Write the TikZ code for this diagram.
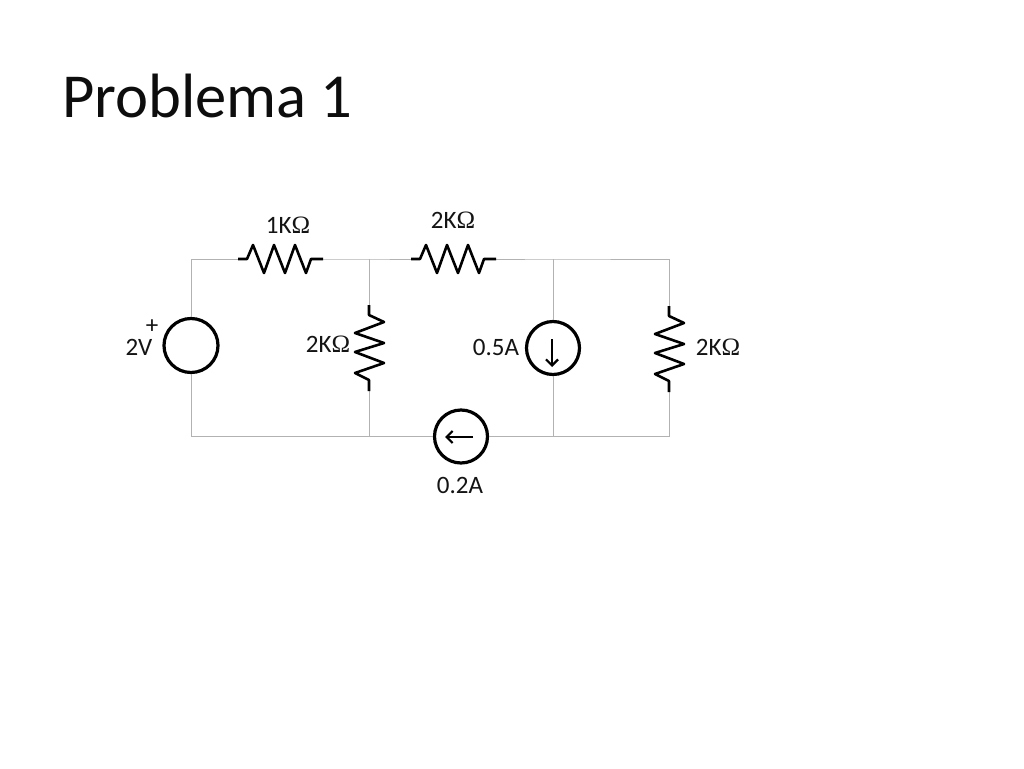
\documentclass[tikz,border=0pt]{standalone}
\usepackage{fontspec}
\setmainfont{Carlito}
\newfontfamily\omfont{Liberation Serif}
\usetikzlibrary{arrows.meta}
\newcommand{\Om}{{\omfont Ω}}
\tikzset{
  wire/.style={draw=black!30,line width=1pt},
  res/.style={draw=black,line width=2.6pt,line join=round},
  src/.style={circle,draw=black,line width=3.2pt,fill=white,minimum size=54pt,inner sep=0pt},
  lab/.style={font=\fontsize{25}{25}\selectfont,text=black!92,inner sep=0pt},
  arr/.style={draw=black,line width=2.2pt,-{Straight Barb[length=6pt,width=12pt,line width=2.2pt]}}
}
\begin{document}
\begin{tikzpicture}[x=1pt,y=-1pt]
\useasboundingbox (0,0) rectangle (1024,768);
\fill[white] (0,0) rectangle (1024,768);
\node[anchor=base west,inner sep=0pt,font=\fontsize{62.6}{62.6}\selectfont,text=black!95] (title) at (62,117) {Problema 1};
% corners and junctions
\coordinate (tl) at (191,259);
\coordinate (tm) at (369,259);
\coordinate (tj) at (553,259);
\coordinate (tr) at (669,259);
\coordinate (bl) at (191,436.5);
\coordinate (bm) at (369,436.5);
\coordinate (bj) at (553,436.5);
\coordinate (br) at (669,436.5);
% resistor ends
\coordinate (r1a) at (238,259);
\coordinate (r1b) at (323,259);
\coordinate (r2a) at (411,259);
\coordinate (r2b) at (496,259);
\coordinate (r3a) at (369,305);
\coordinate (r3b) at (369,391);
\coordinate (r4a) at (669,306);
\coordinate (r4b) at (669,392);
% sources
\node[src] (vs) at (191,345.5) {};
\node[src,minimum size=53pt] (is) at (553,348) {};
\node[src,minimum size=53pt] (ib) at (461,436.5) {};
% wires
\draw[wire] (vs.north) -- (tl) -- (r1a);
\draw[wire] (r1b) -- (tm) -- (r2a);
\draw[wire] (r2b) -- (tj) -- (tr) -- (r4a);
\draw[wire] (tm) -- (r3a);
\draw[wire] (tj) -- (is.north);
\draw[wire] (vs.south) -- (bl) -- (bm) -- (ib.west);
\draw[wire] (ib.east) -- (bj) -- (br) -- (r4b);
\draw[wire] (r3b) -- (bm);
\draw[wire] (is.south) -- (bj);
% horizontal resistors
\draw[res] (r1a) -- ++(9,0) -- ++(6,-14) -- ++(11,28) -- ++(10,-28) -- ++(11,28) -- ++(10,-28) -- ++(11,28) -- ++(5,-14) -- (r1b);
\draw[res] (r2a) -- ++(9,0) -- ++(6,-14) -- ++(11,28) -- ++(10,-28) -- ++(11,28) -- ++(10,-28) -- ++(11,28) -- ++(5,-14) -- (r2b);
% vertical resistors
\draw[res] (r3a) -- ++(0,10) -- ++(15,7) -- ++(-29,11) -- ++(29,10) -- ++(-29,9) -- ++(29,11) -- ++(-29,10) -- ++(14,7) -- (r3b);
\draw[res] (r4a) -- ++(0,10) -- ++(15,7) -- ++(-29,11) -- ++(29,10) -- ++(-29,9) -- ++(29,11) -- ++(-29,10) -- ++(14,7) -- (r4b);
% source arrows
\coordinate (a1s) at (552,339);
\coordinate (a1e) at (552,367);
\coordinate (a2s) at (473,437);
\coordinate (a2e) at (445,437);
\draw[arr] (a1s) -- (a1e);
\draw[arr] (a2s) -- (a2e);
% labels
\node[lab] (l1) at (288,225) {1K\Om};
\node[lab] (l2) at (453,220) {2K\Om};
\node[lab] (l3) at (328,344) {2K\Om};
\node[lab] (l4) at (718,347) {2K\Om};
\node[lab] (l5) at (139,347) {2V};
\node[lab] (l6) at (152,327) {+};
\node[lab] (l7) at (496,347) {0.5A};
\node[lab] (l8) at (460,485) {0.2A};
\end{tikzpicture}
\end{document}
